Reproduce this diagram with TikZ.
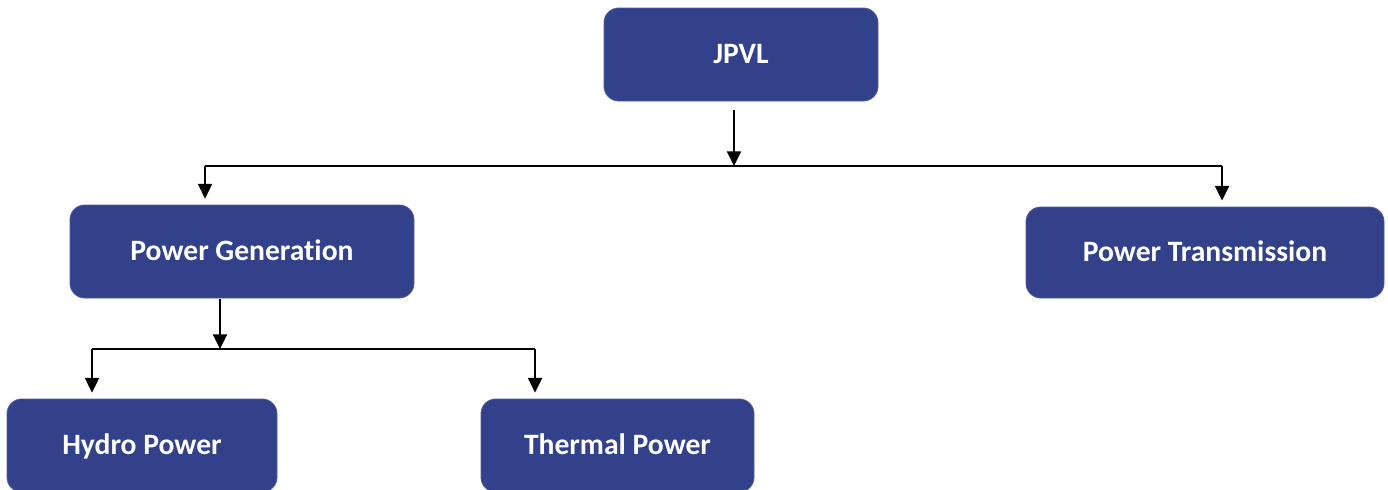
\documentclass[tikz,border=0pt]{standalone}
\usepackage{fontspec}
\setmainfont{Carlito}[Ligatures={NoCommon}]
\usetikzlibrary{arrows.meta}
\definecolor{boxblue}{RGB}{50,65,137}
\begin{document}
\begin{tikzpicture}[x=0.75pt,y=-0.75pt,
  box/.style={rectangle, rounded corners=11pt, fill=boxblue, draw=boxblue!85!white, line width=0.6pt,
    text=white, font=\bfseries\fontsize{22.2}{26}\selectfont, inner sep=0pt,
    text height=16pt, text depth=2pt},
  conn/.style={line width=1.5pt, draw=black},
  arr/.style={conn, -{Triangle[length=11pt,width=10.5pt]}}]
\useasboundingbox[fill=white] (0,0) rectangle (1388,489);
\clip (0,0) rectangle (1388,489);

\node[box, minimum width=205.5pt, minimum height=69.75pt] (jpvl) at (741,54.5) {JPVL};
\node[box, minimum width=258pt, minimum height=69.75pt] (pg) at (242,251.5) {Power Generation};
\node[box, minimum width=268.5pt, minimum height=68.25pt] (pt) at (1205,252.5) {Power Transmission};
\node[box, minimum width=202.5pt, minimum height=69.75pt] (hp) at (142,445.5) {Hydro Power};
\node[box, minimum width=204.75pt, minimum height=69.75pt] (tp) at (617.5,445.5) {Thermal Power};

% top level connectors
\coordinate (js) at (734,110);
\coordinate (jm) at (734,166);
\coordinate (jl) at (205,166);
\coordinate (jr) at (1222,166);
\draw[arr] (js) -- (jm);
\draw[conn] (jl) -- (jr);
\draw[arr, shorten >=4.5pt] (jl) -- (jl |- pg.north);
\draw[arr, shorten >=4.5pt] (jr) -- (jr |- pt.north);

% second level connectors
\coordinate (ps) at (220,299);
\coordinate (pm) at (220,349);
\coordinate (pl) at (92,349);
\coordinate (pr) at (535,349);
\draw[arr] (ps) -- (pm);
\draw[conn] (pl) -- (pr);
\draw[arr, shorten >=4.5pt] (pl) -- (pl |- hp.north);
\draw[arr, shorten >=4.5pt] (pr) -- (pr |- tp.north);
\end{tikzpicture}
\end{document}
